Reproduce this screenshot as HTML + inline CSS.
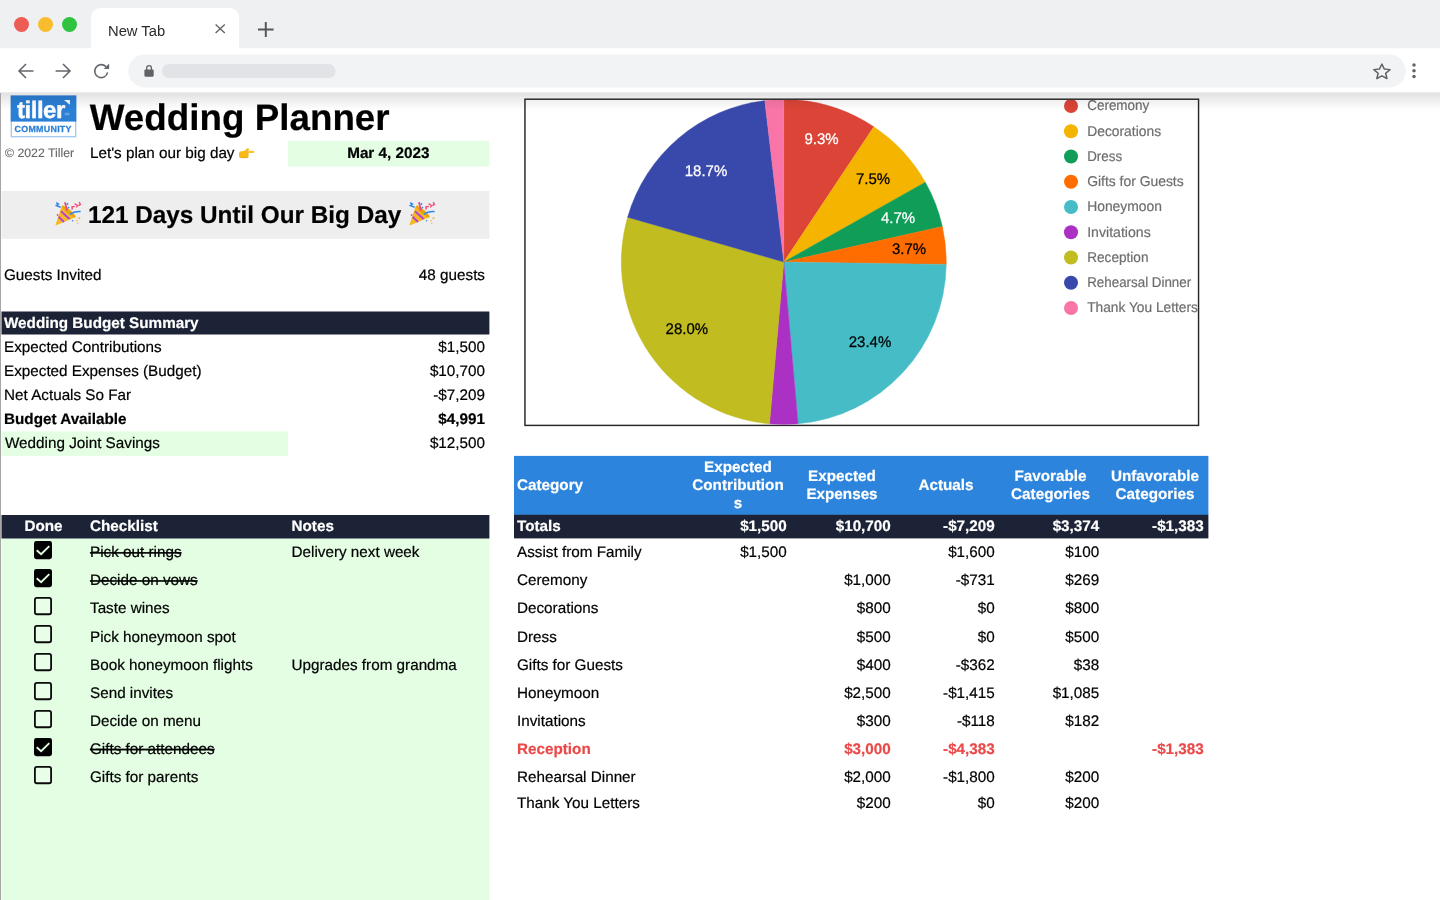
<!DOCTYPE html>
<html lang="en">
<head>
<meta charset="utf-8">
<title>Wedding Planner</title>
<style>
*{box-sizing:border-box;margin:0;padding:0}
html,body{width:1440px;height:900px;overflow:hidden;background:#fff}
body{font-family:"Liberation Sans",Arial,Helvetica,sans-serif;color:#000;position:relative;font-size:15.25px}
.abs{position:absolute}
.t{position:absolute;white-space:nowrap;line-height:20px;height:20px}
.r{text-align:right}
.c{text-align:center}
.b{font-weight:bold}
.w{color:#fff}
.red{color:#ea4a4a;font-weight:bold}
.s{text-decoration:line-through;text-decoration-thickness:1.3px}
#tabbar{left:0;top:0;width:1440px;height:49px;background:linear-gradient(to bottom,#eff0f2 48px,#fafbfb 48px)}
#toolbar{left:0;top:49px;width:1440px;height:44px;background:#fff}
#tab{left:91px;top:8.4px;width:148.3px;height:41px;background:#fff;border-radius:9px 9px 0 0}
.dot{position:absolute;width:15px;height:15px;border-radius:50%;top:17.2px}


#shadow{left:0;top:92px;width:1440px;height:18px;background:linear-gradient(to bottom,rgba(0,0,0,.07) 0,rgba(0,0,0,.07) 1px,rgba(0,0,0,.112) 1px,rgba(0,0,0,.104) 3px,rgba(0,0,0,.078) 6px,rgba(0,0,0,.053) 9.5px,rgba(0,0,0,.026) 14px,rgba(0,0,0,0) 18px)}
#vline{left:0;top:93px;width:1px;height:807px;background:#a6a6a6}
.dark{background:#1c2336}
.green{background:#e1fee1}
.cb{position:absolute;left:34.2px;width:18px;height:18.2px}
svg{position:absolute;overflow:visible}
.em{position:absolute;color:transparent;overflow:hidden;font-size:1px;line-height:1px}
</style>
</head>
<body>
<div id="sheet" class="abs" style="left:0;top:93px;width:1440px;height:807px;background:#fff">
<div class="abs" style="left:0;top:-93px;width:1440px;height:900px">
<svg style="left:0;top:0" width="1440" height="900" viewBox="0 0 1440 900">
<rect x="288" y="140.8" width="201.4" height="25.7" fill="#e4fee4"/>
<rect x="1.5" y="191" width="487.9" height="47.8" fill="#eeeeee"/>
<rect x="1.5" y="311.5" width="487.9" height="23" fill="#1c2336"/>
<rect x="1.5" y="431.4" width="286.55" height="24.4" fill="#e4fee4"/>
<rect x="1.5" y="538" width="487.9" height="362" fill="#e4fee4"/>
<rect x="1.5" y="515" width="487.9" height="23.5" fill="#1c2336"/>
<rect x="514" y="455.9" width="694.4" height="59" fill="#2d84dc"/>
<rect x="514" y="514.7" width="694.4" height="23.7" fill="#1c2336"/>
</svg>
<svg style="left:0;top:90px" width="90" height="52" viewBox="0 90 90 52"><rect x="11.3" y="96.1" width="64.4" height="40.6" fill="#fff" stroke="#9cc5f0" stroke-width="1.25"/><rect x="10.7" y="95.5" width="65.6" height="26.1" fill="#2b80d6"/><path d="M64 99.9H69.9V104.7Z" fill="#fff"/><rect x="64.6" y="112.8" width="5" height="2.4" rx="1" fill="#fff" fill-opacity="0.28"/>
<g text-rendering="geometricPrecision" font-weight="bold"><text x="17.1" y="117.6" font-size="24" letter-spacing="-0.5" fill="#fff" stroke="#fff" stroke-width="0.4">tiller</text><text x="14.6" y="132.3" font-size="8.9" letter-spacing="0.27" fill="#2b80d6" stroke="#2b80d6" stroke-width="0.25">COMMUNITY</text></g></svg>
<svg class="cb" style="top:541.0px" viewBox="0 0 18 18" preserveAspectRatio="none"><rect x="0" y="0" width="18" height="18" rx="2.4" fill="#000"/><path d="M2.7 9.2 L7.1 13.1 L15.3 5.1" fill="none" stroke="#e4fee4" stroke-width="1.9"/></svg>
<svg class="cb" style="top:569.1px" viewBox="0 0 18 18" preserveAspectRatio="none"><rect x="0" y="0" width="18" height="18" rx="2.4" fill="#000"/><path d="M2.7 9.2 L7.1 13.1 L15.3 5.1" fill="none" stroke="#e4fee4" stroke-width="1.9"/></svg>
<svg class="cb" style="top:597.2px" viewBox="0 0 18 18" preserveAspectRatio="none"><rect x="0.9" y="0.9" width="16.2" height="16.2" rx="2" fill="#e8fee8" stroke="#0a0a0a" stroke-width="1.8"/></svg>
<svg class="cb" style="top:625.3px" viewBox="0 0 18 18" preserveAspectRatio="none"><rect x="0.9" y="0.9" width="16.2" height="16.2" rx="2" fill="#e8fee8" stroke="#0a0a0a" stroke-width="1.8"/></svg>
<svg class="cb" style="top:653.4px" viewBox="0 0 18 18" preserveAspectRatio="none"><rect x="0.9" y="0.9" width="16.2" height="16.2" rx="2" fill="#e8fee8" stroke="#0a0a0a" stroke-width="1.8"/></svg>
<svg class="cb" style="top:681.5px" viewBox="0 0 18 18" preserveAspectRatio="none"><rect x="0.9" y="0.9" width="16.2" height="16.2" rx="2" fill="#e8fee8" stroke="#0a0a0a" stroke-width="1.8"/></svg>
<svg class="cb" style="top:709.6px" viewBox="0 0 18 18" preserveAspectRatio="none"><rect x="0.9" y="0.9" width="16.2" height="16.2" rx="2" fill="#e8fee8" stroke="#0a0a0a" stroke-width="1.8"/></svg>
<svg class="cb" style="top:737.7px" viewBox="0 0 18 18" preserveAspectRatio="none"><rect x="0" y="0" width="18" height="18" rx="2.4" fill="#000"/><path d="M2.7 9.2 L7.1 13.1 L15.3 5.1" fill="none" stroke="#e4fee4" stroke-width="1.9"/></svg>
<svg class="cb" style="top:765.8px" viewBox="0 0 18 18" preserveAspectRatio="none"><rect x="0.9" y="0.9" width="16.2" height="16.2" rx="2" fill="#e8fee8" stroke="#0a0a0a" stroke-width="1.8"/></svg>
<svg style="left:0;top:0" width="1440" height="900" viewBox="0 0 1440 900">
<defs><clipPath id="cc"><rect x="525.6" y="99.9" width="672.3" height="324.8"/></clipPath></defs>
<rect x="524.95" y="99.2" width="673.6" height="326.2" fill="#fff" stroke="#262626" stroke-width="1.45"/>
<g clip-path="url(#cc)" text-rendering="geometricPrecision">
<path d="M783.8 262.0L783.80 99.50A162.5 162.5 0 0 1 873.83 126.72Z" fill="#db4437" stroke="#db4437" stroke-width="0.4"/>
<path d="M783.8 262.0L873.83 126.72A162.5 162.5 0 0 1 925.32 182.13Z" fill="#f4b400" stroke="#f4b400" stroke-width="0.4"/>
<path d="M783.8 262.0L925.32 182.13A162.5 162.5 0 0 1 942.38 226.51Z" fill="#0f9d58" stroke="#0f9d58" stroke-width="0.4"/>
<path d="M783.8 262.0L942.38 226.51A162.5 162.5 0 0 1 946.28 264.39Z" fill="#ff6d00" stroke="#ff6d00" stroke-width="0.4"/>
<path d="M783.8 262.0L946.28 264.39A162.5 162.5 0 0 1 798.09 423.87Z" fill="#46bdc6" stroke="#46bdc6" stroke-width="0.4"/>
<path d="M783.8 262.0L798.09 423.87A162.5 162.5 0 0 1 769.51 423.87Z" fill="#ab30c4" stroke="#ab30c4" stroke-width="0.4"/>
<path d="M783.8 262.0L769.51 423.87A162.5 162.5 0 0 1 627.58 217.26Z" fill="#c1bc1f" stroke="#c1bc1f" stroke-width="0.4"/>
<path d="M783.8 262.0L627.58 217.26A162.5 162.5 0 0 1 764.76 100.62Z" fill="#3949ab" stroke="#3949ab" stroke-width="0.4"/>
<path d="M783.8 262.0L764.76 100.62A162.5 162.5 0 0 1 783.80 99.50Z" fill="#f975a7" stroke="#f975a7" stroke-width="0.4"/>
<text transform="translate(821.5 144.2) scale(0.975 1)" text-anchor="middle" font-size="15.4" fill="#fff" stroke="#fff" stroke-width="0.25">9.3%</text>
<text transform="translate(873 184.2) scale(0.975 1)" text-anchor="middle" font-size="15.4" fill="#000" stroke="#000" stroke-width="0.25">7.5%</text>
<text transform="translate(898 223.2) scale(0.975 1)" text-anchor="middle" font-size="15.4" fill="#fff" stroke="#fff" stroke-width="0.25">4.7%</text>
<text transform="translate(909 254.2) scale(0.975 1)" text-anchor="middle" font-size="15.4" fill="#000" stroke="#000" stroke-width="0.25">3.7%</text>
<text transform="translate(870 347.2) scale(0.975 1)" text-anchor="middle" font-size="15.4" fill="#000" stroke="#000" stroke-width="0.25">23.4%</text>
<text transform="translate(686.8 333.7) scale(0.975 1)" text-anchor="middle" font-size="15.4" fill="#000" stroke="#000" stroke-width="0.25">28.0%</text>
<text transform="translate(706 176.2) scale(0.975 1)" text-anchor="middle" font-size="15.4" fill="#fff" stroke="#fff" stroke-width="0.25">18.7%</text>
<circle cx="1071" cy="106.00" r="7" fill="#db4437"/>
<text x="1087.2" y="110.35" textLength="62.1" lengthAdjust="spacingAndGlyphs" font-size="14.2" fill="#6e6e6e" stroke="#6e6e6e" stroke-width="0.2">Ceremony</text>
<circle cx="1071" cy="131.25" r="7" fill="#f4b400"/>
<text x="1087.2" y="135.60" textLength="73.9" lengthAdjust="spacingAndGlyphs" font-size="14.2" fill="#6e6e6e" stroke="#6e6e6e" stroke-width="0.2">Decorations</text>
<circle cx="1071" cy="156.50" r="7" fill="#0f9d58"/>
<text x="1087.2" y="160.85" textLength="34.9" lengthAdjust="spacingAndGlyphs" font-size="14.2" fill="#6e6e6e" stroke="#6e6e6e" stroke-width="0.2">Dress</text>
<circle cx="1071" cy="181.75" r="7" fill="#ff6d00"/>
<text x="1087.2" y="186.10" textLength="96.5" lengthAdjust="spacingAndGlyphs" font-size="14.2" fill="#6e6e6e" stroke="#6e6e6e" stroke-width="0.2">Gifts for Guests</text>
<circle cx="1071" cy="207.00" r="7" fill="#46bdc6"/>
<text x="1087.2" y="211.35" textLength="74.7" lengthAdjust="spacingAndGlyphs" font-size="14.2" fill="#6e6e6e" stroke="#6e6e6e" stroke-width="0.2">Honeymoon</text>
<circle cx="1071" cy="232.25" r="7" fill="#ab30c4"/>
<text x="1087.2" y="236.60" textLength="63.5" lengthAdjust="spacingAndGlyphs" font-size="14.2" fill="#6e6e6e" stroke="#6e6e6e" stroke-width="0.2">Invitations</text>
<circle cx="1071" cy="257.50" r="7" fill="#c1bc1f"/>
<text x="1087.2" y="261.85" textLength="61.3" lengthAdjust="spacingAndGlyphs" font-size="14.2" fill="#6e6e6e" stroke="#6e6e6e" stroke-width="0.2">Reception</text>
<circle cx="1071" cy="282.75" r="7" fill="#3949ab"/>
<text x="1087.2" y="287.10" textLength="104.0" lengthAdjust="spacingAndGlyphs" font-size="14.2" fill="#6e6e6e" stroke="#6e6e6e" stroke-width="0.2">Rehearsal Dinner</text>
<circle cx="1071" cy="308.00" r="7" fill="#f975a7"/>
<text x="1087.2" y="312.35" textLength="110.7" lengthAdjust="spacingAndGlyphs" font-size="14.2" fill="#6e6e6e" stroke="#6e6e6e" stroke-width="0.2">Thank You Letters</text>
</g></svg>
<svg style="left:0;top:0" width="1440" height="900" viewBox="0 0 1440 900"><g text-rendering="geometricPrecision" font-size="15.25">
<text x="5" y="157" fill="#666" stroke="#666" stroke-width="0.1" font-size="12.27">© 2022 Tiller</text>
<text x="89.8" y="129.6" font-weight="bold" fill="#000" stroke="#000" stroke-width="0.2" font-size="36.8">Wedding Planner</text>
<text x="90" y="158.4" fill="#000" stroke="#000" stroke-width="0.2">Let's plan our big day</text>
<text x="388.3" y="158.4" text-anchor="middle" font-weight="bold" fill="#000" stroke="#000" stroke-width="0.2">Mar 4, 2023</text>
<text x="244.6" y="223" text-anchor="middle" font-weight="bold" fill="#000" stroke="#000" stroke-width="0.2" font-size="24.3">121 Days Until Our Big Day</text>
<text x="4" y="280" fill="#000" stroke="#000" stroke-width="0.2">Guests Invited</text>
<text x="485" y="280" text-anchor="end" fill="#000" stroke="#000" stroke-width="0.2">48 guests</text>
<text x="4" y="328" font-weight="bold" fill="#fff" stroke="#fff" stroke-width="0.2">Wedding Budget Summary</text>
<text x="4" y="352" fill="#000" stroke="#000" stroke-width="0.2">Expected Contributions</text>
<text x="485" y="352" text-anchor="end" fill="#000" stroke="#000" stroke-width="0.2">$1,500</text>
<text x="4" y="376" fill="#000" stroke="#000" stroke-width="0.2">Expected Expenses (Budget)</text>
<text x="485" y="376" text-anchor="end" fill="#000" stroke="#000" stroke-width="0.2">$10,700</text>
<text x="4" y="400" fill="#000" stroke="#000" stroke-width="0.2">Net Actuals So Far</text>
<text x="485" y="400" text-anchor="end" fill="#000" stroke="#000" stroke-width="0.2">-$7,209</text>
<text x="4" y="424" font-weight="bold" fill="#000" stroke="#000" stroke-width="0.2">Budget Available</text>
<text x="485" y="424" text-anchor="end" font-weight="bold" fill="#000" stroke="#000" stroke-width="0.2">$4,991</text>
<text x="5" y="448" fill="#000" stroke="#000" stroke-width="0.2">Wedding Joint Savings</text>
<text x="485" y="448" text-anchor="end" fill="#000" stroke="#000" stroke-width="0.2">$12,500</text>
<text x="43.5" y="531" text-anchor="middle" font-weight="bold" fill="#fff" stroke="#fff" stroke-width="0.2">Done</text>
<text x="90" y="531" font-weight="bold" fill="#fff" stroke="#fff" stroke-width="0.2">Checklist</text>
<text x="291.5" y="531" font-weight="bold" fill="#fff" stroke="#fff" stroke-width="0.2">Notes</text>
<text x="90" y="557.2" fill="#000" stroke="#000" stroke-width="0.2" text-decoration="line-through">Pick out rings</text>
<text x="291.5" y="557.2" fill="#000" stroke="#000" stroke-width="0.2">Delivery next week</text>
<text x="90" y="585.3000000000001" fill="#000" stroke="#000" stroke-width="0.2" text-decoration="line-through">Decide on vows</text>
<text x="90" y="613.4000000000001" fill="#000" stroke="#000" stroke-width="0.2">Taste wines</text>
<text x="90" y="641.5" fill="#000" stroke="#000" stroke-width="0.2">Pick honeymoon spot</text>
<text x="90" y="669.6" fill="#000" stroke="#000" stroke-width="0.2">Book honeymoon flights</text>
<text x="291.5" y="669.6" fill="#000" stroke="#000" stroke-width="0.2">Upgrades from grandma</text>
<text x="90" y="697.7" fill="#000" stroke="#000" stroke-width="0.2">Send invites</text>
<text x="90" y="725.8000000000001" fill="#000" stroke="#000" stroke-width="0.2">Decide on menu</text>
<text x="90" y="753.9000000000001" fill="#000" stroke="#000" stroke-width="0.2" text-decoration="line-through">Gifts for attendees</text>
<text x="90" y="782.0" fill="#000" stroke="#000" stroke-width="0.2">Gifts for parents</text>
<text x="517" y="490" font-weight="bold" fill="#fff" stroke="#fff" stroke-width="0.2">Category</text>
<text x="738" y="472.0" text-anchor="middle" font-weight="bold" fill="#fff" stroke="#fff" stroke-width="0.2">Expected</text>
<text x="738" y="490.0" text-anchor="middle" font-weight="bold" fill="#fff" stroke="#fff" stroke-width="0.2">Contribution</text>
<text x="738" y="508.0" text-anchor="middle" font-weight="bold" fill="#fff" stroke="#fff" stroke-width="0.2">s</text>
<text x="842" y="481.0" text-anchor="middle" font-weight="bold" fill="#fff" stroke="#fff" stroke-width="0.2">Expected</text>
<text x="842" y="499.0" text-anchor="middle" font-weight="bold" fill="#fff" stroke="#fff" stroke-width="0.2">Expenses</text>
<text x="946" y="490.0" text-anchor="middle" font-weight="bold" fill="#fff" stroke="#fff" stroke-width="0.2">Actuals</text>
<text x="1050.5" y="481.0" text-anchor="middle" font-weight="bold" fill="#fff" stroke="#fff" stroke-width="0.2">Favorable</text>
<text x="1050.5" y="499.0" text-anchor="middle" font-weight="bold" fill="#fff" stroke="#fff" stroke-width="0.2">Categories</text>
<text x="1155" y="481.0" text-anchor="middle" font-weight="bold" fill="#fff" stroke="#fff" stroke-width="0.2">Unfavorable</text>
<text x="1155" y="499.0" text-anchor="middle" font-weight="bold" fill="#fff" stroke="#fff" stroke-width="0.2">Categories</text>
<text x="517" y="531" font-weight="bold" fill="#fff" stroke="#fff" stroke-width="0.2">Totals</text>
<text x="786.8" y="531" text-anchor="end" font-weight="bold" fill="#fff" stroke="#fff" stroke-width="0.2">$1,500</text>
<text x="890.8" y="531" text-anchor="end" font-weight="bold" fill="#fff" stroke="#fff" stroke-width="0.2">$10,700</text>
<text x="994.8" y="531" text-anchor="end" font-weight="bold" fill="#fff" stroke="#fff" stroke-width="0.2">-$7,209</text>
<text x="1099.3" y="531" text-anchor="end" font-weight="bold" fill="#fff" stroke="#fff" stroke-width="0.2">$3,374</text>
<text x="1203.8" y="531" text-anchor="end" font-weight="bold" fill="#fff" stroke="#fff" stroke-width="0.2">-$1,383</text>
<text x="517" y="557.2" fill="#000" stroke="#000" stroke-width="0.2">Assist from Family</text>
<text x="786.8" y="557.2" text-anchor="end" fill="#000" stroke="#000" stroke-width="0.2">$1,500</text>
<text x="994.8" y="557.2" text-anchor="end" fill="#000" stroke="#000" stroke-width="0.2">$1,600</text>
<text x="1099.3" y="557.2" text-anchor="end" fill="#000" stroke="#000" stroke-width="0.2">$100</text>
<text x="517" y="585.3000000000001" fill="#000" stroke="#000" stroke-width="0.2">Ceremony</text>
<text x="890.8" y="585.3000000000001" text-anchor="end" fill="#000" stroke="#000" stroke-width="0.2">$1,000</text>
<text x="994.8" y="585.3000000000001" text-anchor="end" fill="#000" stroke="#000" stroke-width="0.2">-$731</text>
<text x="1099.3" y="585.3000000000001" text-anchor="end" fill="#000" stroke="#000" stroke-width="0.2">$269</text>
<text x="517" y="613.4000000000001" fill="#000" stroke="#000" stroke-width="0.2">Decorations</text>
<text x="890.8" y="613.4000000000001" text-anchor="end" fill="#000" stroke="#000" stroke-width="0.2">$800</text>
<text x="994.8" y="613.4000000000001" text-anchor="end" fill="#000" stroke="#000" stroke-width="0.2">$0</text>
<text x="1099.3" y="613.4000000000001" text-anchor="end" fill="#000" stroke="#000" stroke-width="0.2">$800</text>
<text x="517" y="641.5" fill="#000" stroke="#000" stroke-width="0.2">Dress</text>
<text x="890.8" y="641.5" text-anchor="end" fill="#000" stroke="#000" stroke-width="0.2">$500</text>
<text x="994.8" y="641.5" text-anchor="end" fill="#000" stroke="#000" stroke-width="0.2">$0</text>
<text x="1099.3" y="641.5" text-anchor="end" fill="#000" stroke="#000" stroke-width="0.2">$500</text>
<text x="517" y="669.6" fill="#000" stroke="#000" stroke-width="0.2">Gifts for Guests</text>
<text x="890.8" y="669.6" text-anchor="end" fill="#000" stroke="#000" stroke-width="0.2">$400</text>
<text x="994.8" y="669.6" text-anchor="end" fill="#000" stroke="#000" stroke-width="0.2">-$362</text>
<text x="1099.3" y="669.6" text-anchor="end" fill="#000" stroke="#000" stroke-width="0.2">$38</text>
<text x="517" y="697.7" fill="#000" stroke="#000" stroke-width="0.2">Honeymoon</text>
<text x="890.8" y="697.7" text-anchor="end" fill="#000" stroke="#000" stroke-width="0.2">$2,500</text>
<text x="994.8" y="697.7" text-anchor="end" fill="#000" stroke="#000" stroke-width="0.2">-$1,415</text>
<text x="1099.3" y="697.7" text-anchor="end" fill="#000" stroke="#000" stroke-width="0.2">$1,085</text>
<text x="517" y="725.8000000000001" fill="#000" stroke="#000" stroke-width="0.2">Invitations</text>
<text x="890.8" y="725.8000000000001" text-anchor="end" fill="#000" stroke="#000" stroke-width="0.2">$300</text>
<text x="994.8" y="725.8000000000001" text-anchor="end" fill="#000" stroke="#000" stroke-width="0.2">-$118</text>
<text x="1099.3" y="725.8000000000001" text-anchor="end" fill="#000" stroke="#000" stroke-width="0.2">$182</text>
<text x="517" y="753.9000000000001" font-weight="bold" fill="#ea4a4a" stroke="#ea4a4a" stroke-width="0.2">Reception</text>
<text x="890.8" y="753.9000000000001" text-anchor="end" font-weight="bold" fill="#ea4a4a" stroke="#ea4a4a" stroke-width="0.2">$3,000</text>
<text x="994.8" y="753.9000000000001" text-anchor="end" font-weight="bold" fill="#ea4a4a" stroke="#ea4a4a" stroke-width="0.2">-$4,383</text>
<text x="1203.8" y="753.9000000000001" text-anchor="end" font-weight="bold" fill="#ea4a4a" stroke="#ea4a4a" stroke-width="0.2">-$1,383</text>
<text x="517" y="782.0" fill="#000" stroke="#000" stroke-width="0.2">Rehearsal Dinner</text>
<text x="890.8" y="782.0" text-anchor="end" fill="#000" stroke="#000" stroke-width="0.2">$2,000</text>
<text x="994.8" y="782.0" text-anchor="end" fill="#000" stroke="#000" stroke-width="0.2">-$1,800</text>
<text x="1099.3" y="782.0" text-anchor="end" fill="#000" stroke="#000" stroke-width="0.2">$200</text>
<text x="517" y="808.2" fill="#000" stroke="#000" stroke-width="0.2">Thank You Letters</text>
<text x="890.8" y="808.2" text-anchor="end" fill="#000" stroke="#000" stroke-width="0.2">$200</text>
<text x="994.8" y="808.2" text-anchor="end" fill="#000" stroke="#000" stroke-width="0.2">$0</text>
<text x="1099.3" y="808.2" text-anchor="end" fill="#000" stroke="#000" stroke-width="0.2">$200</text>
</g></svg>
<svg style="left:238px;top:147px" width="18" height="12" viewBox="238 147 18 12"><rect x="246" y="150.7" width="8.4" height="2.3" rx="1.15" fill="#f9c534"/><path d="M242.2 152.2L247.3 148.5C248.3 147.8 249.6 149.2 248.7 150.1L246.6 152.6Z" fill="#f8b918"/><rect x="239" y="151.2" width="9.6" height="6.9" rx="2.2" fill="#f8b918"/><path d="M240.3 157.6H247.2" stroke="#e9a50e" stroke-width="0.8" fill="none"/></svg>
<span class="em" style="left:240px;top:152px;width:1px;height:1px">&#128073;</span>
<svg style="left:55px;top:200.7px" width="26" height="25" viewBox="0 0 26 25"><path d="M1.2 24.3C0.7 24.5 0.4 24.1 0.6 23.6L6.6 5.4C7 4.4 8 4.3 8.8 5L20.2 14.6C21 15.4 20.8 16.2 19.8 16.6Z" fill="#f6b823"/><path d="M3.6 15.8L9 20.9M6 10.2L14.6 18" stroke="#b548d2" stroke-width="2.1" fill="none"/><path d="M7.2 4.8C9.6 3.6 21.6 13.6 20.4 16.2C18 17.6 6 7.4 7.2 4.8Z" fill="#e8a413"/><path d="M5.6 6.2L1.4 4.6L3.4 3L1.2 1.6" stroke="#2f86e8" stroke-width="1.5" fill="none"/><path d="M15 13.4C17.4 11.4 21.4 10.4 25.6 10.6" stroke="#2f86e8" stroke-width="1.5" fill="none"/><path d="M11.4 9.6C12.8 6.6 9.6 4.4 10.2 1.2" stroke="#f2466f" stroke-width="1.7" fill="none"/><path d="M17.2 8.6L17 5.8L19.8 5.4" stroke="#f2466f" stroke-width="1.4" fill="none"/><path d="M19.6 2.6L22.4 4.4L21.4 6.6M24.2 1L25.4 3.4L23.4 4.6" stroke="#f2466f" stroke-width="1.3" fill="none"/><circle cx="12.4" cy="3" r="1" fill="#2f86e8"/><circle cx="13.4" cy="6.6" r="0.9" fill="#2f86e8"/><circle cx="24.4" cy="17.2" r="1" fill="#f6b823"/><circle cx="22" cy="19.8" r="0.9" fill="#f6c73a"/><circle cx="17.6" cy="19.8" r="0.8" fill="#2f86e8"/><circle cx="22.8" cy="22.6" r="0.8" fill="#f7a6b4"/><circle cx="2.6" cy="14" r="0.9" fill="#f2466f"/></svg>
<svg style="left:408.8px;top:200.7px" width="26" height="25" viewBox="0 0 26 25"><path d="M1.2 24.3C0.7 24.5 0.4 24.1 0.6 23.6L6.6 5.4C7 4.4 8 4.3 8.8 5L20.2 14.6C21 15.4 20.8 16.2 19.8 16.6Z" fill="#f6b823"/><path d="M3.6 15.8L9 20.9M6 10.2L14.6 18" stroke="#b548d2" stroke-width="2.1" fill="none"/><path d="M7.2 4.8C9.6 3.6 21.6 13.6 20.4 16.2C18 17.6 6 7.4 7.2 4.8Z" fill="#e8a413"/><path d="M5.6 6.2L1.4 4.6L3.4 3L1.2 1.6" stroke="#2f86e8" stroke-width="1.5" fill="none"/><path d="M15 13.4C17.4 11.4 21.4 10.4 25.6 10.6" stroke="#2f86e8" stroke-width="1.5" fill="none"/><path d="M11.4 9.6C12.8 6.6 9.6 4.4 10.2 1.2" stroke="#f2466f" stroke-width="1.7" fill="none"/><path d="M17.2 8.6L17 5.8L19.8 5.4" stroke="#f2466f" stroke-width="1.4" fill="none"/><path d="M19.6 2.6L22.4 4.4L21.4 6.6M24.2 1L25.4 3.4L23.4 4.6" stroke="#f2466f" stroke-width="1.3" fill="none"/><circle cx="12.4" cy="3" r="1" fill="#2f86e8"/><circle cx="13.4" cy="6.6" r="0.9" fill="#2f86e8"/><circle cx="24.4" cy="17.2" r="1" fill="#f6b823"/><circle cx="22" cy="19.8" r="0.9" fill="#f6c73a"/><circle cx="17.6" cy="19.8" r="0.8" fill="#2f86e8"/><circle cx="22.8" cy="22.6" r="0.8" fill="#f7a6b4"/><circle cx="2.6" cy="14" r="0.9" fill="#f2466f"/></svg>
<span class="em" style="left:60px;top:210px;width:1px;height:1px">&#127881;</span><span class="em" style="left:414px;top:210px;width:1px;height:1px">&#127881;</span>
</div></div>
<div id="tabbar" class="abs"></div>
<div id="tab" class="abs"></div>
<div class="dot" style="left:14px;background:#ee5c56"></div>
<div class="dot" style="left:37.5px;background:#f8bd2e"></div>
<div class="dot" style="left:61.5px;background:#2ec440"></div>
<div class="t" style="left:108px;top:21px;font-size:14.75px;color:#2b2b2b">New Tab</div>
<svg style="left:215px;top:23.6px" width="10.4" height="9.4" viewBox="0 0 10.4 9.4"><path d="M0.6 0.5L9.8 8.9M9.8 0.5L0.6 8.9" stroke="#606367" stroke-width="1.35" fill="none"/></svg>
<svg style="left:257.7px;top:21.7px" width="15.6" height="15" viewBox="0 0 15.6 15"><path d="M7.8 0V15M0 7.5H15.6" stroke="#54575b" stroke-width="2" fill="none"/></svg>
<div id="toolbar" class="abs"></div>
<svg style="left:16.8px;top:61.8px" width="18" height="18" viewBox="0 0 18 18"><path d="M16.5 9H2.6M9 2L2 9L9 16" stroke="#63666a" stroke-width="1.55" fill="none"/></svg>
<svg style="left:54.3px;top:61.8px" width="18" height="18" viewBox="0 0 18 18"><path d="M1.6 9H15.4M9 2L16 9L9 16" stroke="#63666a" stroke-width="1.55" fill="none"/></svg>
<svg style="left:92px;top:61.8px" width="19" height="18" viewBox="0 0 19 18"><path d="M15.6 10.4A6.5 6.5 0 1 1 13.9 4.6" stroke="#63666a" stroke-width="1.55" fill="none"/><path d="M17.1 1.6V7.1H11.6Z" fill="#63666a"/></svg>
<svg style="left:0;top:48px" width="1440" height="45" viewBox="0 48 1440 45"><rect x="128.3" y="54.6" width="1277.5" height="32.8" rx="16.4" fill="#f1f3f4"/><rect x="162" y="64" width="173.6" height="14" rx="7" fill="#e1e3e6"/></svg>
<svg style="left:143px;top:64px" width="12" height="14" viewBox="143 64 12 14"><rect x="144.4" y="69.5" width="9.3" height="7.2" rx="1.1" fill="#5f6368"/><path d="M146.7 70V68A2.35 2.35 0 0 1 151.4 68V70" stroke="#5f6368" stroke-width="1.3" fill="none"/></svg>
<svg style="left:1372px;top:61.7px" width="19.8" height="18.6" viewBox="0 0 20 20" preserveAspectRatio="none"><path d="M10 2.2L12.4 7.6L18.2 8.2L13.8 12.1L15.1 17.8L10 14.8L4.9 17.8L6.2 12.1L1.8 8.2L7.6 7.6Z" stroke="#5f6368" stroke-width="1.55" fill="none" stroke-linejoin="round"/></svg>
<svg style="left:1411px;top:62px" width="6" height="18" viewBox="0 0 6 18"><circle cx="3" cy="2.9" r="1.75" fill="#5f6368"/><circle cx="3" cy="8.75" r="1.75" fill="#5f6368"/><circle cx="3" cy="14.6" r="1.75" fill="#5f6368"/></svg>
<div id="shadow" class="abs"></div>
<div id="vline" class="abs"></div>
</body>
</html>
